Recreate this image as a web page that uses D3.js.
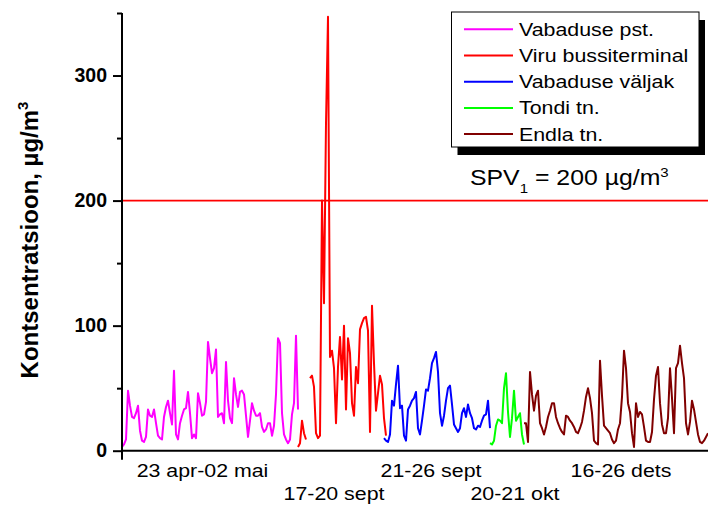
<!DOCTYPE html>
<html>
<head>
<meta charset="utf-8">
<script src="https://cdn.jsdelivr.net/npm/d3@7"></script>
<style>
  body { margin: 0; background: #fff; }
  svg { display: block; }
  text { font-family: "Liberation Sans", Arial, Helvetica, sans-serif; fill: #000; }
</style>
</head>
<body>
<svg id="chart" width="708" height="506"></svg>
<script>
// Measurement stations (legend order) and their line colours
const seriesNames = ["Vabaduse pst.", "Viru bussiterminal", "Vabaduse väljak", "Tondi tn.", "Endla tn."];
const seriesColors = ["#ff00ff", "#ff0000", "#0000ff", "#00ff00", "#800000"];
// Sample index at which each campaign starts on the shared time axis
const seriesStart = [0, 88, 131, 184, 201];

// Concentrations, µg/m³, one value per sample step (null = missing)
const vabadusePst = [3, 5, 9, 48, 36, 27, 26, 30, 36, 16,
  8, 7, 11, 33, 28, 27, 33, 22, 12, 10,
  9, 27, 35, 40, 30, 21, 64, 13, 9, 22,
  28, 33, 34, 47, 30, 10, 13, 10, 46, 38,
  28, 29, 39, 87, 74, 62, 66, 81, 27, 29,
  30, 22, 71, 40, 26, 22, 58, 45, 35, 47,
  48, 45, 28, 11, 24, 38, 32, 28, 28, 30,
  19, 15, 17, 22, 22, 12, 20, 45, 90, 86,
  30, 13, 9, 6, 9, 29, 38, 92, 33];
const viruBussiterminal = [3, 6, 24, 14, 9, null, 58, 60, 51, 14,
  10, 12, 200, 118, 262, 347, 75, 80, 66, 22,
  67, 91, 57, 100, 33, 90, 78, 38, 28, 67,
  54, 97, 102, 106, 107, 96, 15, 116, 70, 32,
  46, 60, 53, 26, 12];
const vabaduseValjak = [10, 8, 7, 13, 40, 36, 53, 68, 34, 36,
  12, 8, 33, 36, 40, 42, 47, 18, 13, 24,
  36, 49, 48, 58, 70, 74, 79, 63, 30, 20,
  28, 40, 50, 52, 37, 21, 18, 15, 18, 30,
  34, 27, 37, 30, 26, 18, 17, 20, 19, 24,
  28, 29, 40, 18];
const tondiTn = [6, 5, 8, 20, 25, 24, 22, 50, 62, 31,
  11, 26, 48, 24, 27, 30, 13, 5];
const endlaTn = [22, 22, 7, 63, 45, 32, 44, 48, 22, 18,
  13, 19, 27, 32, 38, 38, 27, 22, 18, 15,
  13, 28, 27, 24, 22, 19, 15, 14, 18, 23,
  32, 43, 50, 42, 30, 8, 6, 5, 72, 44,
  20, 18, 16, 14, 9, 6, 8, 17, 22, 43,
  80, 66, 38, 31, 14, 3, 38, 27, 31, 29,
  19, 8, 7, 7, 15, 41, 60, 67, 38, 21,
  14, 14, 26, 66, 42, 14, 66, 70, 84, 70,
  58, 22, 13, 23, 40, 33, 23, 13, 7, 6,
  8, 11, 14];
const seriesValues = [vabadusePst, viruBussiterminal, vabaduseValjak, tondiTn, endlaTn];

// Period labels under the time axis and the sample index each one is centred on
const periodLabels = ["23 apr-02 mai", "17-20 sept", "21-26 sept", "20-21 okt", "16-26 dets"];
const periodTicks = [40.25, 106, 154.5, 196.5, 249.5];

const yMajorTicks = [0, 100, 200, 300];
const yMinorTicks = [50, 150, 250, 350];
const limitValue = 200;          // SPV1 limit value
const sampleCount = 293;
const yMax = 350;

const svg = d3.select("#chart");
const plot = { left: 122, right: 708, top: 13, bottom: 450.7 };

const x = d3.scaleLinear().domain([0, sampleCount]).range([plot.left, plot.right]);
const y = d3.scaleLinear().domain([0, yMax]).range([plot.bottom, plot.top]);

// Horizontal text in this chart is set slightly wide
const stretch = 1.155;
function wideText(parent, px, py, size, anchor, weight) {
  return parent.append("g")
    .attr("transform", `translate(${px},${py}) scale(${stretch},1)`)
    .append("text")
    .attr("font-size", size)
    .attr("font-weight", weight || "normal")
    .attr("text-anchor", anchor || "start");
}

// Limit line
svg.append("line")
  .attr("x1", x(0)).attr("x2", x(sampleCount))
  .attr("y1", y(limitValue)).attr("y2", y(limitValue))
  .attr("stroke", "#ff0000").attr("stroke-width", 1.6);

// Station series
const line = d3.line()
  .defined(d => d.v !== null)
  .x(d => x(d.i))
  .y(d => y(d.v));

seriesValues.forEach((vals, k) => {
  const pts = vals.map((v, j) => ({ i: seriesStart[k] + j, v }));
  svg.append("path")
    .datum(pts)
    .attr("d", line)
    .attr("fill", "none")
    .attr("stroke", seriesColors[k])
    .attr("stroke-width", 2)
    .attr("stroke-linejoin", "round");
});

// Y axis: major ticks with labels, minor ticks without
const yAxis = svg.append("g")
  .attr("transform", `translate(${plot.left},0)`)
  .call(d3.axisLeft(y).tickValues(yMajorTicks).tickSize(9).tickSizeOuter(0).tickPadding(6));
yAxis.select(".domain").remove();
yAxis.selectAll(".tick line").attr("stroke", "#000").attr("stroke-width", 2);
yAxis.selectAll(".tick text")
  .attr("font-family", "'Liberation Sans', Arial, sans-serif")
  .attr("font-size", 19.5)
  .attr("font-weight", "bold")
  .attr("fill", "#000");

const yMinor = svg.append("g")
  .attr("transform", `translate(${plot.left},0)`)
  .call(d3.axisLeft(y).tickValues(yMinorTicks).tickSize(5).tickSizeOuter(0).tickFormat(""));
yMinor.select(".domain").remove();
yMinor.selectAll(".tick line").attr("stroke", "#000").attr("stroke-width", 2);

// Axis lines
svg.append("line")
  .attr("x1", plot.left).attr("x2", plot.left)
  .attr("y1", y(yMax)).attr("y2", y(0) + 9)
  .attr("stroke", "#000").attr("stroke-width", 2);
svg.append("line")
  .attr("x1", plot.left).attr("x2", x(sampleCount))
  .attr("y1", y(0)).attr("y2", y(0))
  .attr("stroke", "#000").attr("stroke-width", 2);

// Period labels, alternating between two rows
periodLabels.forEach((label, k) => {
  wideText(svg, x(periodTicks[k]), k % 2 === 0 ? 476.5 : 500, 18.5, "middle").text(label);
});

// Y axis title
const yTitle = svg.append("text")
  .attr("transform", "translate(37.5,240) rotate(-90)")
  .attr("text-anchor", "middle")
  .attr("font-size", 24)
  .attr("font-weight", "bold");
yTitle.append("tspan").text("Kontsentratsioon, \u00b5g/m");
yTitle.append("tspan").attr("font-size", 15).attr("dy", -10).text("3");

// Legend with drop shadow
const legend = { x: 451.5, y: 12, w: 247.5, h: 135, row: 26.2 };
svg.append("rect")
  .attr("x", legend.x + 6).attr("y", legend.y + 8)
  .attr("width", legend.w).attr("height", legend.h)
  .attr("fill", "#000");
svg.append("rect")
  .attr("x", legend.x).attr("y", legend.y)
  .attr("width", legend.w).attr("height", legend.h)
  .attr("fill", "#fff").attr("stroke", "#000").attr("stroke-width", 1);

seriesNames.forEach((name, k) => {
  const ry = legend.y + 17.3 + k * legend.row;
  svg.append("line")
    .attr("x1", legend.x + 12.5).attr("x2", legend.x + 61.5)
    .attr("y1", ry).attr("y2", ry)
    .attr("stroke", seriesColors[k]).attr("stroke-width", 2);
  wideText(svg, legend.x + 67.5, ry + 6.5, 18.5, "start").text(name);
});

// Limit value annotation
const spv = wideText(svg, 470, 185, 21.5, "start");
spv.append("tspan").text("SPV");
spv.append("tspan").attr("font-size", 13).attr("dy", 8).text("1");
spv.append("tspan").attr("dy", -8).text(" = " + limitValue + " \u00b5g/m");
spv.append("tspan").attr("font-size", 13).attr("dy", -8).text("3");
</script>
</body>
</html>
